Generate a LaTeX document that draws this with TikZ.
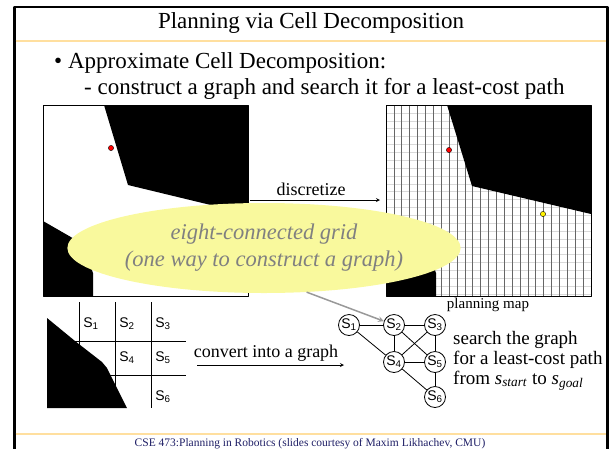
\documentclass[tikz,border=0pt]{standalone}
\usepackage{fontspec}
\setmainfont{Liberation Serif}
\newfontfamily\arialfont{Liberation Sans}
\usetikzlibrary{shapes.geometric}
\definecolor{rulecol}{HTML}{FFDF9F}
\definecolor{cloudcol}{HTML}{F9F99D}
\definecolor{footblue}{HTML}{1F1F66}
\tikzset{
  state/.style={circle, draw, line width=0.8pt, inner sep=0pt, minimum size=21,
    font=\arialfont\fontsize{14}{14}\selectfont},
  cellname/.style={font=\arialfont\fontsize{14}{14}\selectfont},
  cloudshape/.style={ellipse, fill=cloudcol, inner sep=0pt, minimum width=342,
    minimum height=90, text=gray, align=center,
    font=\itshape\fontsize{22.5}{27}\selectfont},
}
\begin{document}
\begin{tikzpicture}[x=1pt, y=-1pt, line join=round, >=stealth, font=\fontsize{18}{20}\selectfont]
  \useasboundingbox (0,0) rectangle (610,448);
  % slide frame
  \draw[line width=2.4pt] (14.5,470) -- (14.5,7) -- (607.5,7) -- (607.5,470);
  \draw[rulecol, line width=1.5pt] (15.7,41) -- (606.3,41) (15.7,434) -- (606.3,434);
  \node (title) at (311,23) {\fontsize{23}{25}\selectfont Planning via Cell Decomposition};
  \node[anchor=base west, inner sep=0pt] (pt1) at (54,68) {\fontsize{23}{25}\selectfont • Approximate Cell Decomposition:};
  \node[anchor=base west, inner sep=0pt] (pt2) at (84,94) {\fontsize{23}{25}\selectfont - construct a graph and search it for a least-cost path};
  
  % world map
  \begin{scope}[shift={(43,105)}]
    \draw[line width=0.6pt] (0,0) rectangle (205,191);
    \fill (61,0) -- (85,80) -- (205,109) -- (205,0) -- cycle;
    \fill (0,116) -- (40,139) -- (50,168) -- (50,191) -- (0,191) -- cycle;
    \filldraw[fill=red, line width=0.4pt] (68,43) circle (2.6);
  \end{scope}
  
  % planning map
  \begin{scope}[shift={(386,105)}]
    \foreach \i in {1,...,24} \draw[black!15, line width=0.5pt] (0,\i*7.88) -- (205,\i*7.88);
    \foreach \i in {1,...,25} \draw[black!60, line width=0.6pt] (\i*7.88,0) -- (\i*7.88,191);
    \fill (61,0) -- (86,81) -- (205,109) -- (205,0) -- cycle;
    \fill (0,116) -- (40,139) -- (50,168) -- (50,191) -- (0,191) -- cycle;
    \draw[line width=0.6pt] (0,0) rectangle (205,191);
    \filldraw[fill=red, line width=0.4pt] (63,45) circle (2.6);
    \filldraw[fill=yellow, line width=0.4pt] (157,109) circle (2.6);
  \end{scope}
  
  \node (disc) at (311,189) {discretize};
  \coordinate (d0) at (250,200);
  \coordinate (d1) at (380,200);
  \draw[->, line width=0.8pt] (d0) -- (d1);
  \node (pmap) at (488,305) {\fontsize{15}{15}\selectfont planning map};
  
  \node[cloudshape] (cloud) at (264,248) {eight-connected grid\\(one way to construct a graph)};
  
  % cells
  \draw[line width=0.7pt] (79,302) -- (79,360) (115,302) -- (115,408) (151,302) -- (151,408)
    (70,341) -- (186,341) (100,375) -- (186,375);
  \fill (47,318) -- (75,341) -- (102,362) -- (107,368) -- (127,408) -- (47,408) -- cycle;
  \foreach \k/\x/\y in {1/91/324, 2/127/324, 3/163/324, 4/127/358, 5/163/358, 6/163/397}
    \node[cellname] (c\k) at (\x,\y) {S\textsubscript{\k}};
  
  \node[anchor=base] (conv) at (266,357) {convert into a graph};
  \coordinate (g0) at (197,365);
  \coordinate (g1) at (344,365);
  \draw[->, line width=0.8pt] (g0) -- (g1);
  
  % graph
  \foreach \k/\x/\y in {1/349/325, 2/394/325, 3/435/325, 4/394/362, 5/435/362, 6/435/397}
    \node[state] (s\k) at (\x,\y) {S\textsubscript{\k}};
  \foreach \a/\b in {1/2, 2/3, 1/4, 2/4, 2/5, 3/4, 3/5, 4/5, 4/6, 5/6}
    \draw[line width=0.8pt] (s\a) -- (s\b);
  \draw[->, gray!80, line width=1.5pt] (cloud.-46) -- (s2);
  
  \node[anchor=north west, align=left, inner sep=0pt, font=\fontsize{19}{20}\selectfont] (search) at (453,331)
    {search the graph\\for a least-cost path\\from \textit{s}\textsubscript{\textit{start}} to \textit{s}\textsubscript{\textit{goal}}};
  
  \node[anchor=base, text=footblue, font=\fontsize{11.5}{11.5}\selectfont] (foot) at (310,446.5)
    {CSE 473:Planning in Robotics (slides courtesy of Maxim Likhachev, CMU)};
\end{tikzpicture}
\end{document}
